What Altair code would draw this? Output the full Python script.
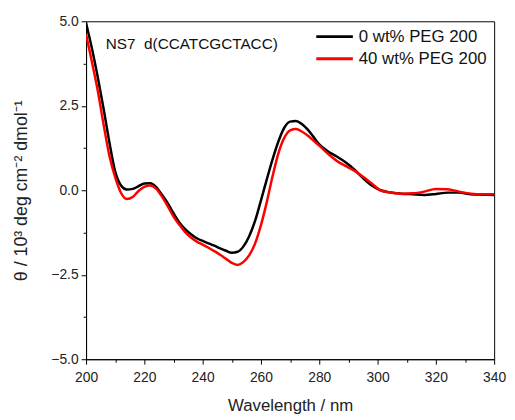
import altair as alt
import pandas as pd

wavelength = [200, 202, 204, 206, 208, 210, 212, 214, 216, 218, 220, 222, 224, 226, 228, 230,
              232, 234, 236, 238, 240, 242, 244, 246, 248, 250, 252, 254, 256, 258, 260, 262,
              264, 266, 268, 270, 272, 274, 276, 278, 280, 283, 286, 289, 292, 295, 298, 301,
              304, 308, 312, 316, 320, 324, 328, 332, 336, 340]

peg0 = [4.95, 4.2, 3.35, 2.42, 1.42, 0.55, 0.14, 0.02, 0.04, 0.12, 0.2, 0.21, 0.1, -0.13, -0.38, -0.68,
        -0.95, -1.15, -1.3, -1.42, -1.5, -1.57, -1.64, -1.72, -1.79, -1.85, -1.82, -1.66, -1.35, -0.9, -0.3, 0.32,
        0.92, 1.45, 1.85, 2.03, 2.05, 1.96, 1.8, 1.58, 1.36, 1.15, 1.0, 0.83, 0.62, 0.36, 0.14, 0.0,
        -0.06, -0.1, -0.12, -0.14, -0.11, -0.07, -0.07, -0.12, -0.13, -0.14]

peg40 = [4.62, 3.8, 2.95, 1.95, 1.02, 0.38, -0.08, -0.26, -0.2, -0.02, 0.1, 0.14, 0.05, -0.18, -0.47, -0.78,
         -1.02, -1.24, -1.4, -1.52, -1.61, -1.7, -1.8, -1.91, -2.03, -2.15, -2.21, -2.12, -1.92, -1.57, -1.03, -0.35,
         0.42, 1.1, 1.55, 1.77, 1.81, 1.74, 1.62, 1.47, 1.32, 1.08, 0.87, 0.72, 0.58, 0.4, 0.2, 0.0,
         -0.06, -0.1, -0.09, -0.04, 0.04, 0.03, -0.04, -0.1, -0.12, -0.12]

series_names = ["0 wt% PEG 200", "40 wt% PEG 200"]
series_colors = ["#000000", "#ff0000"]

x_major = [200, 220, 240, 260, 280, 300, 320, 340]
x_minor = [210, 230, 250, 270, 290, 310, 330]
y_major = [-5.0, -2.5, 0.0, 2.5, 5.0]
y_minor = [-3.75, -1.25, 1.25, 3.75]

rows = []
for w, a, b in zip(wavelength, peg0, peg40):
    rows.append({"wl": w, "cd": a, "series": series_names[0]})
    rows.append({"wl": w, "cd": b, "series": series_names[1]})
df = pd.DataFrame(rows)

FONT = "Liberation Sans"
xscale = alt.Scale(domain=[200, 340], nice=False, zero=False)
yscale = alt.Scale(domain=[-5, 5], nice=False, zero=False)

lines = alt.Chart(df).mark_line(interpolate="monotone", strokeWidth=2.5, clip=True).encode(
    x=alt.X("wl:Q", scale=xscale,
            axis=alt.Axis(values=x_major, format="d", title="Wavelength / nm", tickSize=5,
                          labelFontSize=14, titleFontSize=17, titleFontWeight="normal", labelFlush=False,
                          labelPadding=7, titlePadding=13, grid=False, domainColor="black",
                          tickColor="black", labelColor="#222", titleColor="#222", labelFont=FONT, titleFont=FONT)),
    y=alt.Y("cd:Q", scale=yscale,
            axis=alt.Axis(values=y_major, format=".1f", title="θ / 10³ deg cm⁻² dmol⁻¹", tickSize=5,
                          labelFontSize=14, titleFontSize=18, titleFontWeight="normal", labelFlush=False,
                          labelPadding=3, titlePadding=21, grid=False, domainColor="black",
                          tickColor="black", labelColor="#222", titleColor="#222", labelFont=FONT, titleFont=FONT)),
    color=alt.Color("series:N", scale=alt.Scale(domain=series_names, range=series_colors), legend=None),
)

minor_x = alt.Chart(pd.DataFrame({"wl": x_minor})).mark_point(opacity=0).encode(
    x=alt.X("wl:Q", scale=xscale,
            axis=alt.Axis(values=x_minor, labels=False, title=None, tickSize=3, domain=False,
                          grid=False, orient="bottom", tickColor="black")),
)
minor_y = alt.Chart(pd.DataFrame({"cd": y_minor})).mark_point(opacity=0).encode(
    y=alt.Y("cd:Q", scale=yscale,
            axis=alt.Axis(values=y_minor, labels=False, title=None, tickSize=3, domain=False,
                          grid=False, orient="left", tickColor="black")),
)

label = alt.Chart(pd.DataFrame({"t": ["NS7\u00a0\u00a0d(CCATCGCTACC)"]})).mark_text(
    align="left", baseline="middle", fontSize=15.5, font=FONT, color="#111"
).encode(text="t:N", x=alt.value(20), y=alt.value(23))

legend_layers = []
for i, (name, col) in enumerate(zip(series_names, series_colors)):
    ly = 15.5 + i * 22.5
    ldf = pd.DataFrame({"series": [name]})
    legend_layers.append(
        alt.Chart(ldf).mark_rule(strokeWidth=3, color=col).encode(
            x=alt.value(233), x2=alt.value(270), y=alt.value(ly))
    )
    legend_layers.append(
        alt.Chart(ldf).mark_text(align="left", baseline="middle", fontSize=17, font=FONT, color="#111").encode(
            text="series:N", x=alt.value(276), y=alt.value(ly))
    )

chart = alt.layer(lines, minor_x, minor_y, label, *legend_layers).resolve_axis(
    x="independent", y="independent").properties(
    width=413, height=342,
    autosize=alt.AutoSizeParams(type="none"),
    padding={"left": 79, "top": 11, "right": 13, "bottom": 56},
).configure_view(stroke="black", strokeWidth=1)

chart.save("out.html", embed_options={"renderer": "svg", "actions": False})
